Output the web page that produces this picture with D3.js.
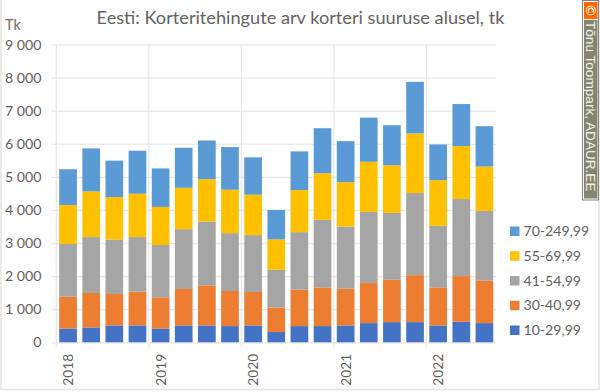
<!DOCTYPE html>
<html>
<head>
<meta charset="utf-8">
<script src="https://cdn.jsdelivr.net/npm/d3@7"></script>
<style>
  html, body { margin: 0; padding: 0; background: #fff; }
  text { font-family: Lato, "Open Sans", sans-serif; }
</style>
</head>
<body>
<div id="chart"></div>
<script>
// Quarters 2018 Q1 - 2022 Q3
const quarters = ["2018Q1","2018Q2","2018Q3","2018Q4","2019Q1","2019Q2","2019Q3","2019Q4","2020Q1","2020Q2","2020Q3","2020Q4","2021Q1","2021Q2","2021Q3","2021Q4","2022Q1","2022Q2","2022Q3"];
const seriesNames = ["10-29,99","30-40,99","41-54,99","55-69,99","70-249,99"];
const seriesColors = ["#4472c4","#ed7d31","#a5a5a5","#ffc000","#5b9bd5"];

const size10 = [415,450,510,510,415,510,510,490,510,310,490,490,510,580,610,610,510,620,580];
const size30 = [965,1040,950,1020,945,1100,1210,1060,1010,740,1100,1170,1110,1210,1280,1420,1150,1380,1290];
const size41 = [1590,1690,1650,1650,1580,1810,1930,1750,1720,1145,1740,2040,1880,2150,2020,2480,1860,2330,2100];
const size55 = [1180,1380,1280,1310,1150,1250,1280,1310,1220,915,1270,1410,1340,1515,1440,1800,1380,1600,1340];
const size70 = [1080,1300,1100,1300,1165,1210,1170,1290,1130,890,1170,1360,1240,1335,1210,1560,1080,1270,1220];

const yTicks = [0,1000,2000,3000,4000,5000,6000,7000,8000,9000];

const svg = d3.select("#chart").append("svg")
    .attr("width", 600)
    .attr("height", 392)
    .style("display", "block");

// outer frame of the chart
svg.append("rect")
    .attr("x", 1).attr("y", -2)
    .attr("width", 598).attr("height", 391.5)
    .attr("fill", "#fff")
    .attr("stroke", "#e4e4e4")
    .attr("stroke-width", 1.5);

const plotLeft = 56.5, plotRight = 496, plotTop = 44.5, plotBottom = 342.3;

const x = d3.scaleBand().domain(quarters).range([plotLeft, plotRight]).paddingInner(0.235).paddingOuter(0.1175);
const y = d3.scaleLinear().domain([0, 9000]).range([plotBottom, plotTop]);

const fmt = function(d) { return d3.format(",")(d).replace(",", " "); };

// Horizontal grid + y labels
const yAxis = svg.append("g")
    .attr("transform", "translate(" + plotLeft + ",0)")
    .call(d3.axisLeft(y).tickValues(yTicks).tickSize(-(plotRight - plotLeft)).tickPadding(15).tickFormat(fmt));
yAxis.select(".domain").remove();
yAxis.selectAll("line").attr("stroke", "#e6e6e6").attr("stroke-width", 1.2).attr("x1", -5);
yAxis.selectAll("text").attr("fill", "#5f5f5f").style("font-size", "14.2px");

// Vertical year lines + year labels
const yearStarts = quarters.filter(function(q) { return q.endsWith("Q1"); });
const xAxis = svg.append("g")
    .attr("transform", "translate(0," + plotBottom + ")");
xAxis.selectAll("line")
    .data(yearStarts)
    .join("line")
    .attr("x1", function(d) { return x(d) - x.step() * x.paddingInner() / 2 - 0.2; })
    .attr("x2", function(d) { return x(d) - x.step() * x.paddingInner() / 2 - 0.2; })
    .attr("y1", plotTop - plotBottom)
    .attr("y2", 5)
    .attr("stroke", "#e6e6e6")
    .attr("stroke-width", 1.2);
xAxis.selectAll("text")
    .data(yearStarts)
    .join("text")
    .text(function(d) { return d.slice(0, 4); })
    .attr("transform", function(d) { return "translate(" + (x(d) + x.bandwidth() / 2 + 5) + ",43.5) rotate(-90)"; })
    .attr("fill", "#5f5f5f")
    .style("font-size", "13.8px");

// Stacked bars
const rows = quarters.map(function(q, i) {
    return { q: q, 0: size10[i], 1: size30[i], 2: size41[i], 3: size55[i], 4: size70[i] };
});
const stack = d3.stack().keys([0, 1, 2, 3, 4]);
svg.append("g").selectAll("g")
    .data(stack(rows))
    .join("g")
    .attr("fill", function(d) { return seriesColors[d.key]; })
    .selectAll("rect")
    .data(function(d) { return d; })
    .join("rect")
    .attr("x", function(d) { return x(d.data.q); })
    .attr("y", function(d) { return y(d[1]); })
    .attr("width", x.bandwidth())
    .attr("height", function(d) { return y(d[0]) - y(d[1]); });

// Title and unit
svg.append("text")
    .attr("x", 300.5).attr("y", 24)
    .attr("text-anchor", "middle")
    .attr("fill", "#636363")
    .style("font-size", "18.2px")
    .text("Eesti: Korteritehingute arv korteri suuruse alusel, tk");
svg.append("text")
    .attr("x", 5).attr("y", 30)
    .attr("fill", "#7f6a55")
    .style("font-size", "14.5px")
    .text("Tk");

// Legend, reversed order as in the picture
const legendY = d3.scalePoint().domain(seriesNames.slice().reverse()).range([231, 330]);
const legend = svg.append("g").selectAll("g")
    .data(seriesNames)
    .join("g")
    .attr("transform", function(d) { return "translate(510," + legendY(d) + ")"; });
legend.append("rect")
    .attr("y", -4.5)
    .attr("width", 9.5).attr("height", 9.5)
    .attr("fill", function(d, i) { return seriesColors[i]; });
legend.append("text")
    .attr("x", 13.5).attr("y", 5)
    .attr("fill", "#5f5f5f")
    .style("font-size", "14.1px")
    .text(function(d) { return d; });

// Copyright stamp
const stamp = svg.append("g");
stamp.append("rect").attr("x", 582.5).attr("y", 0.5).attr("width", 16).attr("height", 199.5).attr("fill", "#fff").attr("stroke", "#808080");
stamp.append("rect").attr("x", 584).attr("y", 2).attr("width", 13.5).attr("height", 17).attr("fill", "#ff6600");
stamp.append("rect").attr("x", 584).attr("y", 20).attr("width", 13.5).attr("height", 178.5).attr("fill", "#85856f");
stamp.append("text")
    .attr("transform", "translate(590.5,10.5) rotate(90)")
    .attr("text-anchor", "middle")
    .attr("dy", "0.35em")
    .attr("fill", "#fff")
    .style("font-size", "13px")
    .text("©");
stamp.append("text")
    .attr("transform", "translate(586.2,21) rotate(90)")
    .attr("fill", "#f4f4f0")
    .style("font-family", "'Liberation Sans', sans-serif")
    .style("font-size", "13.6px")
    .text("Tõnu Toompark, ADAUR.EE");
</script>
</body>
</html>
